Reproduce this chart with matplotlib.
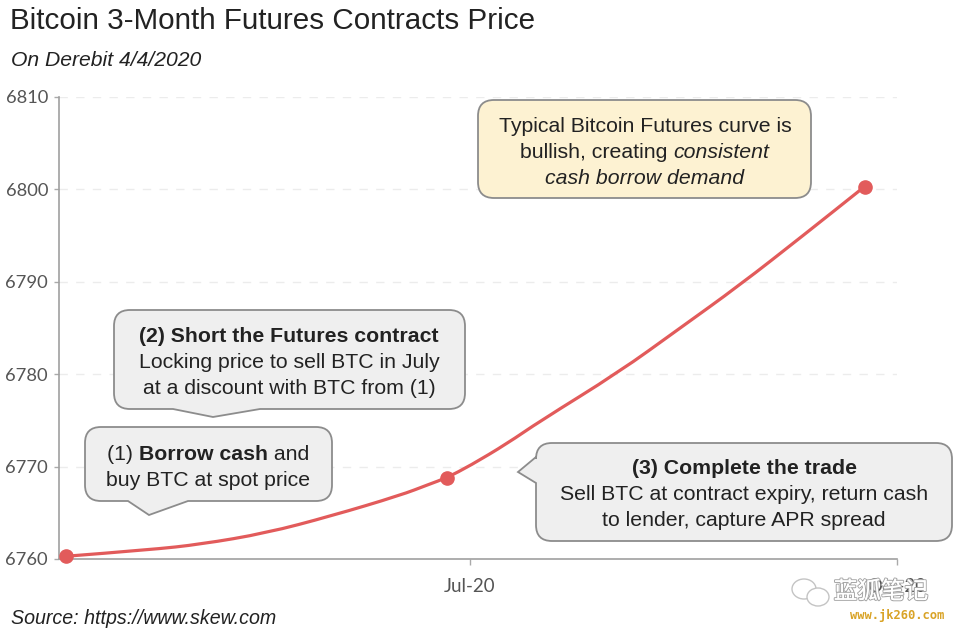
import pandas as pd
import matplotlib
matplotlib.use("Agg")
import matplotlib.dates as mdates
from matplotlib import pyplot as plt
from matplotlib.path import Path
from matplotlib.patches import PathPatch, Ellipse
import matplotlib.patheffects as pe

plt.rcParams['font.family'] = ['Liberation Sans', 'DejaVu Sans']

# curve
curve_dates = ["2020-04-05", "2020-04-23", "2020-05-04", "2020-05-18", "2020-06-01", "2020-06-16",
               "2020-06-22", "2020-06-26", "2020-07-01", "2020-07-09", "2020-07-16", "2020-08-02",
               "2020-08-15", "2020-08-28", "2020-09-11", "2020-09-24"]
curve_prices = [6760.3, 6761.0, 6761.6, 6762.8, 6764.65, 6766.9,
                6768.05, 6768.8, 6770.1, 6772.5, 6774.9, 6780.2,
                6784.9, 6789.6, 6795.1, 6800.3]

# the three contracts with a dot
contract_dates = ["2020-04-05", "2020-06-26", "2020-09-24"]
contract_prices = [6760.3, 6768.8, 6800.3]

y_ticks = [6760, 6770, 6780, 6790, 6800, 6810]
x_tick_dates = ["2020-07-01", "2020-10-01"]
x_tick_labels = ["Jul-20", "Oct-20"]

RED = "#e25b5b"
GREY_BOX = "#efefef"
YELLOW_BOX = "#fdf2d2"
EDGE = "#8c8c8c"
TICK = "#555555"

fig = plt.figure(figsize=(9.6, 6.35), dpi=100)
ax = fig.add_axes([59 / 960, 1 - 559 / 635, (897 - 59) / 960, (559 - 97) / 635])

# smooth line through the read points, the original is a spline too
xs = mdates.date2num(pd.to_datetime(curve_dates))
pts = list(zip(xs, curve_prices))
verts = [pts[0]]
codes = [Path.MOVETO]
for a, b in zip(pts[1:-1], pts[2:]):
    verts += [a, ((a[0] + b[0]) / 2, (a[1] + b[1]) / 2)]
    codes += [Path.CURVE3, Path.CURVE3]
verts.append(pts[-1])
codes.append(Path.LINETO)
ax.add_patch(PathPatch(Path(verts, codes), facecolor="none", edgecolor=RED, lw=2.3, clip_on=False, zorder=3))
ax.plot(pd.to_datetime(contract_dates), contract_prices, "o", color=RED, ms=9.5, clip_on=False, zorder=4)

ax.set_xlim(pd.Timestamp("2020-04-03 10:00"), pd.Timestamp("2020-10-01"))
ax.set_ylim(6760, 6810)
ax.set_yticks(y_ticks)
ax.set_xticks(pd.to_datetime(x_tick_dates))
ax.set_xticklabels(x_tick_labels)
ax.tick_params(axis="y", length=3.6, width=1, color="#aaaaaa", labelcolor=TICK, labelsize=13.2, pad=4.3)
ax.tick_params(axis="x", length=4, width=1, color="#aaaaaa", labelcolor=TICK, labelsize=13.5, pad=9.8)
for lab in ax.get_xticklabels() + ax.get_yticklabels():
    lab.set_fontfamily("Lato")

ax.grid(axis="y", color="#ececec", lw=1, ls=(0, (6, 6)))
ax.set_axisbelow(True)
ax.spines["top"].set_visible(False)
ax.spines["right"].set_visible(False)
ax.spines["left"].set_color("#a0a0a0")
ax.spines["bottom"].set_color("#a0a0a0")
ax.spines["left"].set_linewidth(1.2)
ax.spines["bottom"].set_linewidth(1.2)

# overlay in pixel coordinates for the callouts and texts
ov = fig.add_axes([0, 0, 1, 1], facecolor="none")
ov.set_xlim(0, 960)
ov.set_ylim(635, 0)
ov.axis("off")


def callout(x0, y0, x1, y1, fill, tail=None, side="bottom", r=16):
    verts = [(x0 + r, y0), (x1 - r, y0), (x1, y0), (x1, y0 + r), (x1, y1 - r), (x1, y1), (x1 - r, y1)]
    codes = [Path.MOVETO, Path.LINETO, Path.CURVE3, Path.CURVE3, Path.LINETO, Path.CURVE3, Path.CURVE3]
    if tail and side == "bottom":
        verts += tail[::-1]
        codes += [Path.LINETO] * 3
    verts += [(x0 + r, y1), (x0, y1), (x0, y1 - r)]
    codes += [Path.LINETO, Path.CURVE3, Path.CURVE3]
    if tail and side == "left":
        verts += tail[::-1]
        codes += [Path.LINETO] * 3
    verts += [(x0, y0 + r), (x0, y0), (x0 + r, y0), (x0 + r, y0)]
    codes += [Path.LINETO, Path.CURVE3, Path.CURVE3, Path.CLOSEPOLY]
    ov.add_patch(PathPatch(Path(verts, codes), facecolor=fill, edgecolor=EDGE, lw=1.3, zorder=5))


def line(cx, cy, runs, size=15.3):
    # one centred line made of (text, weight, style) runs
    rend = fig.canvas.get_renderer()
    items = []
    total = 0
    for s, weight, style in runs:
        t = ov.text(0, cy, s, fontsize=size, fontweight=weight, fontstyle=style, color="#222222",
                    va="center_baseline", ha="left", zorder=6)
        w = t.get_window_extent(rend).width
        items.append((t, w))
        total += w
    x = cx - total / 2
    for t, w in items:
        t.set_x(x)
        x += w


N = ("normal", "normal")
B = ("bold", "normal")
I = ("normal", "italic")

callout(478, 100, 811, 198, YELLOW_BOX)
line(645, 124, [("Typical Bitcoin Futures curve is", *N)])
line(645, 150, [("bullish, creating ", *N), ("consistent", *I)])
line(645, 176, [("cash borrow demand", *I)])

callout(114, 310, 465, 409, GREY_BOX, tail=[(173, 409), (213, 417), (260, 409)])
line(289, 334, [("(2) Short the Futures contract", *B)])
line(289, 360, [("Locking price to sell BTC in July", *N)])
line(289, 386, [("at a discount with BTC from (1)", *N)])

callout(85, 427, 332, 501, GREY_BOX, tail=[(128, 501), (149, 515), (188, 501)])
line(208, 452, [("(1) ", *N), ("Borrow cash", *B), (" and", *N)])
line(208, 478, [("buy BTC at spot price", *N)])

callout(536, 443, 952, 541, GREY_BOX, tail=[(536, 457), (518, 472), (536, 483)], side="left")
line(744, 467, [("(3) Complete the trade", *B)])
line(744, 493, [("Sell BTC at contract expiry, return cash", *N)])
line(744, 518, [("to lender, capture APR spread", *N)])

ov.text(10, 18, "Bitcoin 3-Month Futures Contracts Price", fontsize=21.3, color="#222222", va="center_baseline")
ov.text(11, 59, "On Derebit 4/4/2020", fontsize=15.2, fontstyle="italic", color="#222222", va="center_baseline")
ov.text(11, 617, "Source: https://www.skew.com", fontsize=14.1, fontstyle="italic", color="#222222", va="center_baseline")

# watermark
for (ex, ey, ew, eh) in [(804, 589, 24, 20), (818, 597, 22, 18)]:
    ov.add_patch(Ellipse((ex, ey), ew, eh, facecolor="white", edgecolor="#c4c4c4", lw=1, zorder=7))
ov.text(881, 592, "蓝狐笔记", fontsize=17, color="white", ha="center", va="center",
        family=["Noto Sans CJK SC", "DejaVu Sans"], zorder=7,
        path_effects=[pe.withStroke(linewidth=1.6, foreground="#a8a8a8"), pe.Normal()])
ov.text(897, 615, "www.jk260.com", fontsize=8.7, fontweight="bold", color="#d9a326", ha="center", va="center",
        family="DejaVu Sans Mono", zorder=7)

fig.savefig("out.png", dpi=100)
